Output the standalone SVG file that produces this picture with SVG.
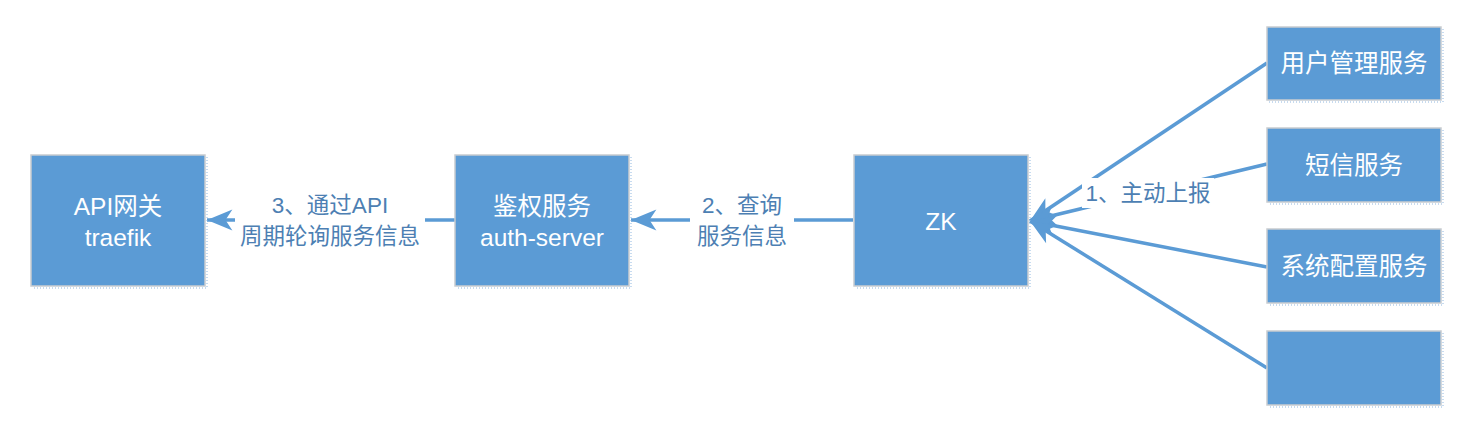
<svg xmlns="http://www.w3.org/2000/svg" width="1478" height="436" viewBox="0 0 1478 436">
<style>
.box{fill:#5b9bd5;stroke:#c8ccd0;stroke-width:1.5}
.shadow{stroke:#8fb7e0;stroke-width:1;stroke-dasharray:1 2;fill:none}
.t{font-family:"Liberation Sans","Noto Sans CJK SC",sans-serif;font-size:24.5px;fill:#ffffff;text-anchor:middle}
.lbl{font-family:"Liberation Sans","Noto Sans CJK SC",sans-serif;font-size:22.5px;fill:#4d7fb3;text-anchor:middle}
.edge{stroke:#5b9bd5;stroke-width:3.5;fill:none}
</style>
<defs>
<marker id="arr" markerUnits="userSpaceOnUse" markerWidth="30" markerHeight="30" viewBox="-24 -12 26 24" refX="0" refY="0" orient="auto">
<path d="M0,0 L-22,-9 L-16,0 L-22,9 Z" fill="#5b9bd5"/>
</marker>
</defs>
<g id="connectors">
<line class="edge" x1="455" y1="220" x2="207" y2="220" marker-end="url(#arr)"/>
<line class="edge" x1="853" y1="220" x2="631" y2="220" marker-end="url(#arr)"/>
<line class="edge" x1="1267" y1="63" x2="1030" y2="221" marker-end="url(#arr)"/>
<line class="edge" x1="1267" y1="164" x2="1030" y2="221" marker-end="url(#arr)"/>
<line class="edge" x1="1267" y1="267" x2="1030" y2="221" marker-end="url(#arr)"/>
<line class="edge" x1="1267" y1="368" x2="1030" y2="221" marker-end="url(#arr)"/>
<rect x="235" y="190" width="190" height="60" fill="#ffffff"/>
<text class="lbl" x="330" y="213">3、通过API</text>
<text class="lbl" x="330" y="244">周期轮询服务信息</text>
<rect x="690" y="190" width="104" height="60" fill="#ffffff"/>
<text class="lbl" x="742" y="213">2、查询</text>
<text class="lbl" x="742" y="244">服务信息</text>
<rect x="1082" y="178" width="132" height="30" fill="#ffffff"/>
<text class="lbl" x="1148" y="201">1、主动上报</text>
</g>
<g id="api-gateway">
<rect class="box" x="31" y="155" width="174" height="131"/>
<path class="shadow" d="M207,157 V288 H33"/>
<text class="t" x="118" y="215">API网关</text>
<text class="t" x="118" y="246">traefik</text>
</g>
<g id="auth-server">
<rect class="box" x="455" y="155" width="174" height="131"/>
<path class="shadow" d="M631,157 V288 H457"/>
<text class="t" x="542" y="215">鉴权服务</text>
<text class="t" x="542" y="246">auth-server</text>
</g>
<g id="zk">
<rect class="box" x="854" y="155" width="174" height="131"/>
<path class="shadow" d="M1030,157 V288 H856"/>
<text class="t" x="941" y="230">ZK</text>
</g>
<g id="user-service">
<rect class="box" x="1267" y="27" width="174" height="73"/>
<path class="shadow" d="M1443,29 V102 H1269"/>
<text class="t" x="1354" y="72">用户管理服务</text>
</g>
<g id="sms-service">
<rect class="box" x="1267" y="128" width="174" height="74"/>
<path class="shadow" d="M1443,130 V204 H1269"/>
<text class="t" x="1354" y="174">短信服务</text>
</g>
<g id="config-service">
<rect class="box" x="1267" y="229" width="174" height="74"/>
<path class="shadow" d="M1443,231 V305 H1269"/>
<text class="t" x="1354" y="275">系统配置服务</text>
</g>
<g id="blank-service">
<rect class="box" x="1267" y="331" width="174" height="74"/>
<path class="shadow" d="M1443,333 V407 H1269"/>
</g>
</svg>
